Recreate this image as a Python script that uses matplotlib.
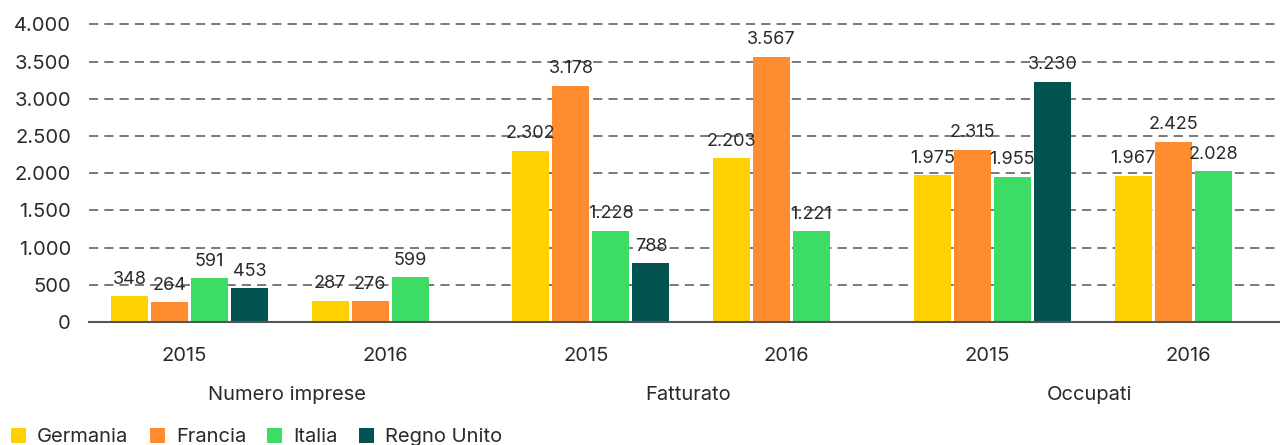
import matplotlib
matplotlib.use("Agg")
import matplotlib.pyplot as plt
import matplotlib.transforms as mtransforms
import numpy as np

plt.rcParams['font.family'] = ['Inter', 'DejaVu Sans']

groups = ["Numero imprese", "Fatturato", "Occupati"]
years = ["2015", "2016", "2015", "2016", "2015", "2016"]
series = ["Germania", "Francia", "Italia", "Regno Unito"]
germania = [348, 287, 2302, 2203, 1975, 1967]
francia = [264, 276, 3178, 3567, 2315, 2425]
italia = [591, 599, 1228, 1221, 1955, 2028]
regno_unito = [453, None, 788, None, 3230, None]
colors = ["#FFD100", "#FF8C2E", "#3DDC64", "#02524F"]
yticks = [0, 500, 1000, 1500, 2000, 2500, 3000, 3500, 4000]

def fmt(v):
    return f"{v:,}".replace(",", ".")

W, H = 1280, 445
fig = plt.figure(figsize=(W / 100, H / 100), dpi=100)
ax_left, ax_right = 89, 1280
y0_px, ytop_px = 322, 20.7
c0, step = 189.5, 200.7
ax = fig.add_axes([ax_left / W, 1 - y0_px / H, (ax_right - ax_left) / W, (y0_px - ytop_px) / H])

x = np.arange(len(years))
slot = 40 / step
bw = 37 / step
TXT = "#2a2a2a"
all_series = [germania, francia, italia, regno_unito]
for i, (vals, c) in enumerate(zip(all_series, colors)):
    off = (i - 1.5) * slot
    xs = [xi + off for xi, v in zip(x, vals) if v is not None]
    vs = [v for v in vals if v is not None]
    ax.bar(xs, vs, width=bw, color=c, zorder=3, label=series[i])
    for xx, v in zip(xs, vs):
        ax.annotate(fmt(v), (xx, v), xytext=(0, 6), textcoords="offset points",
                    ha="center", va="bottom", fontsize=13, color=TXT, zorder=4)

ax.set_xlim((ax_left - c0) / step, (ax_right - c0) / step)
ax.set_ylim(0, 4050)
ax.set_yticks(yticks)
ax.set_yticklabels([fmt(v) for v in yticks], fontsize=14.5, color=TXT)
ax.yaxis.grid(True, linestyle=(0, (6, 4)), color="#555555", linewidth=1.1, zorder=0)
ax.set_axisbelow(True)
ax.tick_params(axis="y", length=0, pad=13)
ax.set_xticks(x)
ax.set_xticklabels(years, fontsize=14.5, color=TXT)
ax.tick_params(axis="x", length=0, pad=18)
shift = mtransforms.ScaledTranslation(-5 / 100, 0, fig.dpi_scale_trans)
for lbl in ax.get_xticklabels():
    lbl.set_transform(lbl.get_transform() + shift)
for s in ["top", "right", "left"]:
    ax.spines[s].set_visible(False)
ax.spines["bottom"].set_color("#555555")
ax.spines["bottom"].set_linewidth(1.5)
ax.spines["bottom"].set_zorder(5)

for gi, g in enumerate(groups):
    xc = (x[2 * gi] + x[2 * gi + 1]) / 2
    ax.annotate(g, (xc, 0), xycoords=("data", "axes fraction"), xytext=(-3, -73),
                textcoords="offset pixels", ha="center", va="center", fontsize=14.5, color=TXT)

handles, labels = ax.get_legend_handles_labels()
leg = fig.legend(handles, labels, loc="center left", bbox_to_anchor=(11 / W, 1 - 437 / H),
                 ncol=4, frameon=False, fontsize=14.5, handlelength=0.75, handleheight=0.75,
                 handletextpad=0.55, columnspacing=1.05, borderaxespad=0, borderpad=0)
for t in leg.get_texts():
    t.set_color(TXT)

fig.savefig("out.png", dpi=100)
